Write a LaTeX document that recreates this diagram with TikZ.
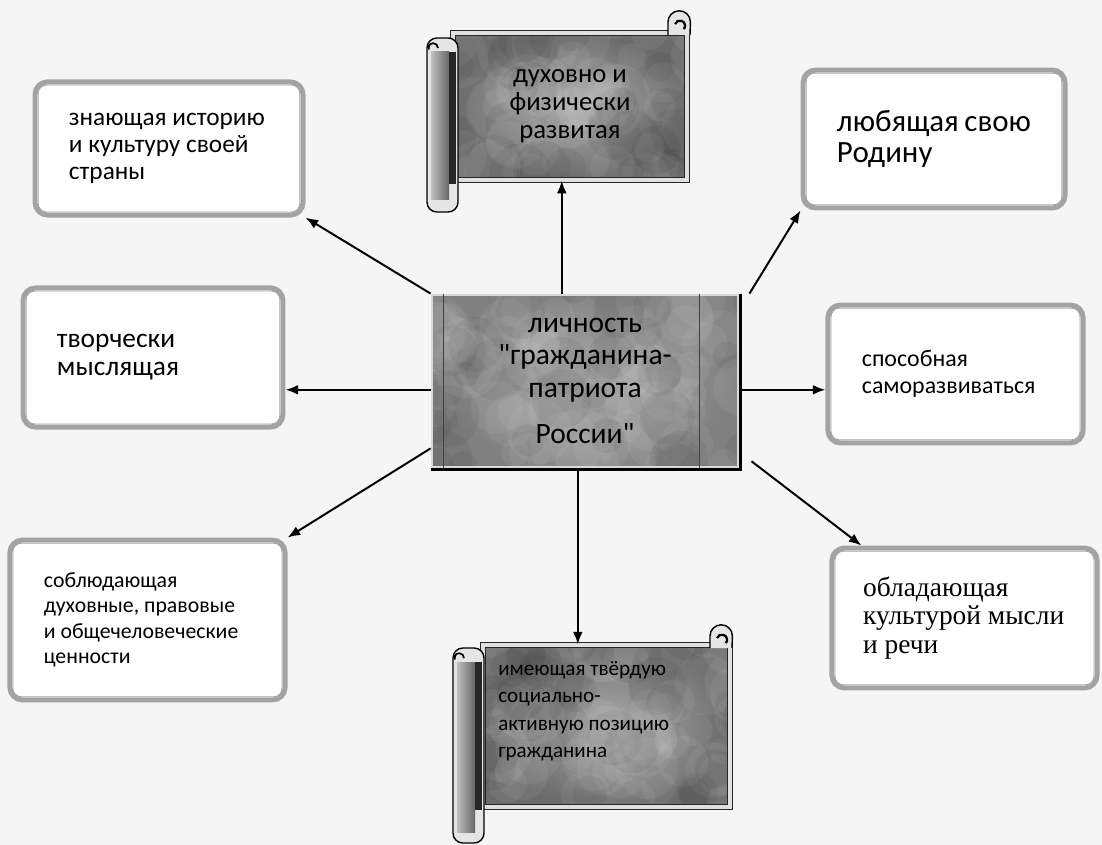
\documentclass[tikz,border=0pt]{standalone}
\usepackage{fontspec}
\setmainfont{Carlito}[Ligatures=TeXOff]
\newfontfamily\timesfont{Liberation Serif}
\usepackage{tikz}
\usetikzlibrary{arrows.meta, calc, positioning}
\tikzset{>={Latex[length=9pt, width=7pt]}}
\pgfmathsetseed{11}

\begin{document}
\begin{tikzpicture}[x=0.025cm, y=-0.025cm,
  cloudy/.style={path picture={
    \foreach \k in {1,...,60}
      \fill[white, opacity=0.06] ($(path picture bounding box.south west)+(rnd*8cm, rnd*4.5cm)$) circle[radius=0.3cm+0.6cm*rnd];
    \foreach \k in {1,...,35}
      \fill[black, opacity=0.05] ($(path picture bounding box.south west)+(rnd*8cm, rnd*4.5cm)$) circle[radius=0.3cm+0.5cm*rnd];}},
  trait/.style={draw=black!36, line width=3.5pt, rounded corners=9pt, fill=white, inner xsep=0.85cm, inner ysep=0pt, align=flush left},
  corebox/.style={cloudy, shade, inner color=black!36, outer color=black!50, draw=black!15, line width=2pt, align=flush center, inner sep=0pt},
  panel/.style={cloudy, shade, inner color=black!36, outer color=black!58, draw=black!85, double=black!12, double distance=2.5pt, line width=0.8pt, inner sep=0pt},
  link/.style={->, line width=1.4pt}]

% page
\useasboundingbox (0,0) rectangle (1102,845);
\fill[black!4] (0,0) rectangle (1102,845);

% central box
\node[corebox, minimum width=7.65cm, minimum height=4.3cm, font=\fontsize{21}{23}\selectfont] (core) at (585,381) {личность\\"гражданина-\\патриота\\[10pt]России"};
\draw[line width=2pt] ([xshift=1pt]core.north east) -- ([xshift=1pt, yshift=-1pt]core.south east) -- ([yshift=-1pt]core.south west);
\draw[black!75, line width=0.8pt] ([xshift=0.33cm]core.north west) -- ([xshift=0.33cm]core.south west);
\draw[black!75, line width=0.8pt] ([xshift=-1cm]core.north east) -- ([xshift=-1cm]core.south east);

% upper scroll
\node[panel, minimum width=5.85cm, minimum height=3.68cm, align=flush center, font=\fontsize{19}{20}\selectfont] (spirit) at (570,106.5) {духовно и\\физически\\развитая};
\draw[fill=black!10, line width=1pt, rounded corners=7pt] (427,38) rectangle (458,212);
\shade[left color=black!25, right color=black!60] (431,52) rectangle (449,200);
\fill[black!85] (449,52) rectangle (456,184);
\draw[line width=1.2pt] (438,48) arc[start angle=0, end angle=200, radius=0.12cm];
\draw[fill=black!10, line width=1pt] (668,35) -- (668,22) arc[start angle=180, end angle=0, radius=0.28cm] -- (690,35);
\draw[line width=1.6pt] (675,24) arc[start angle=160, end angle=-40, radius=0.13cm];

% lower scroll
\node[panel, minimum width=6.18cm, minimum height=4.05cm] (civic) at (606.5,726) {};
\draw[fill=black!10, line width=1pt, rounded corners=7pt] (453,648) rectangle (484,843);
\shade[left color=black!25, right color=black!60] (457,662) rectangle (475,832);
\fill[black!85] (475,662) rectangle (482,810);
\draw[line width=1.2pt] (464,658) arc[start angle=0, end angle=200, radius=0.12cm];
\draw[fill=black!10, line width=1pt] (710,648) -- (710,636) arc[start angle=180, end angle=0, radius=0.28cm] -- (732,648);
\draw[line width=1.6pt] (717,638) arc[start angle=160, end angle=-40, radius=0.13cm];
\node[anchor=north west, align=flush left, inner sep=0pt, font=\fontsize{15}{19.5}\selectfont] (civictext) at (498,661) {имеющая твёрдую\\социально-\\активную позицию\\гражданина};

% framed boxes
\node[trait, text width=5cm, minimum height=3.33cm, font=\fontsize{18}{19}\selectfont] (history) at (169,148.5) {знающая~историю\\и~культуру~своей\\страны};
\node[trait, text width=4.85cm, minimum height=3.45cm, font=\fontsize{22}{22}\selectfont] (homeland) at (934,139) {любящая~свою\\Родину};
\node[trait, text width=4.8cm, minimum height=3.48cm, font=\fontsize{19.5}{20}\selectfont] (creative) at (153,357.5) {творчески\\мыслящая};
\node[trait, text width=4.68cm, minimum height=3.45cm, font=\fontsize{17}{19}\selectfont] (growth) at (955.5,374) {способная\\саморазвиваться};
\node[trait, text width=5.18cm, minimum height=4cm, font=\fontsize{15.5}{18}\selectfont] (values) at (147.5,620) {соблюдающая\\духовные,~правовые\\и~общечеловеческие\\ценности};
\node[trait, text width=5.07cm, inner xsep=0.78cm, minimum height=3.5cm, font=\timesfont\fontsize{19.5}{20}\selectfont] (speech) at (964.5,618) {обладающая\\культурой~мысли\\и~речи};

\foreach \n in {history, homeland, creative, growth, values, speech}
  \draw[black!36, line width=0.6pt, rounded corners=6pt] ($(\n.north west)+(4pt,-4pt)$) rectangle ($(\n.south east)+(-4pt,4pt)$);

% arrows
\draw[link] ([xshift=-0.58cm]core.north) -- ([xshift=-0.58cm]core.north |- spirit.south);
\draw[link] (core.north west) -- (history.south east);
\draw[link] ([xshift=0.25cm]core.north east) -- (homeland.south west);
\draw[link] ([yshift=-0.22cm]core.west) -- ([yshift=-0.22cm]core.west -| creative.east);
\draw[link] ([yshift=-0.22cm]core.east) -- ([yshift=-0.22cm]core.east -| growth.west);
\draw[link] ([yshift=0.5cm]core.south west) -- (values.north east);
\draw[link] ([xshift=0.3cm, yshift=0.18cm]core.south east) -- ([xshift=0.8cm]speech.north west);
\draw[link] ([xshift=-0.18cm]core.south) -- ([xshift=-0.18cm]core.south |- civic.north);

\end{tikzpicture}
\end{document}
